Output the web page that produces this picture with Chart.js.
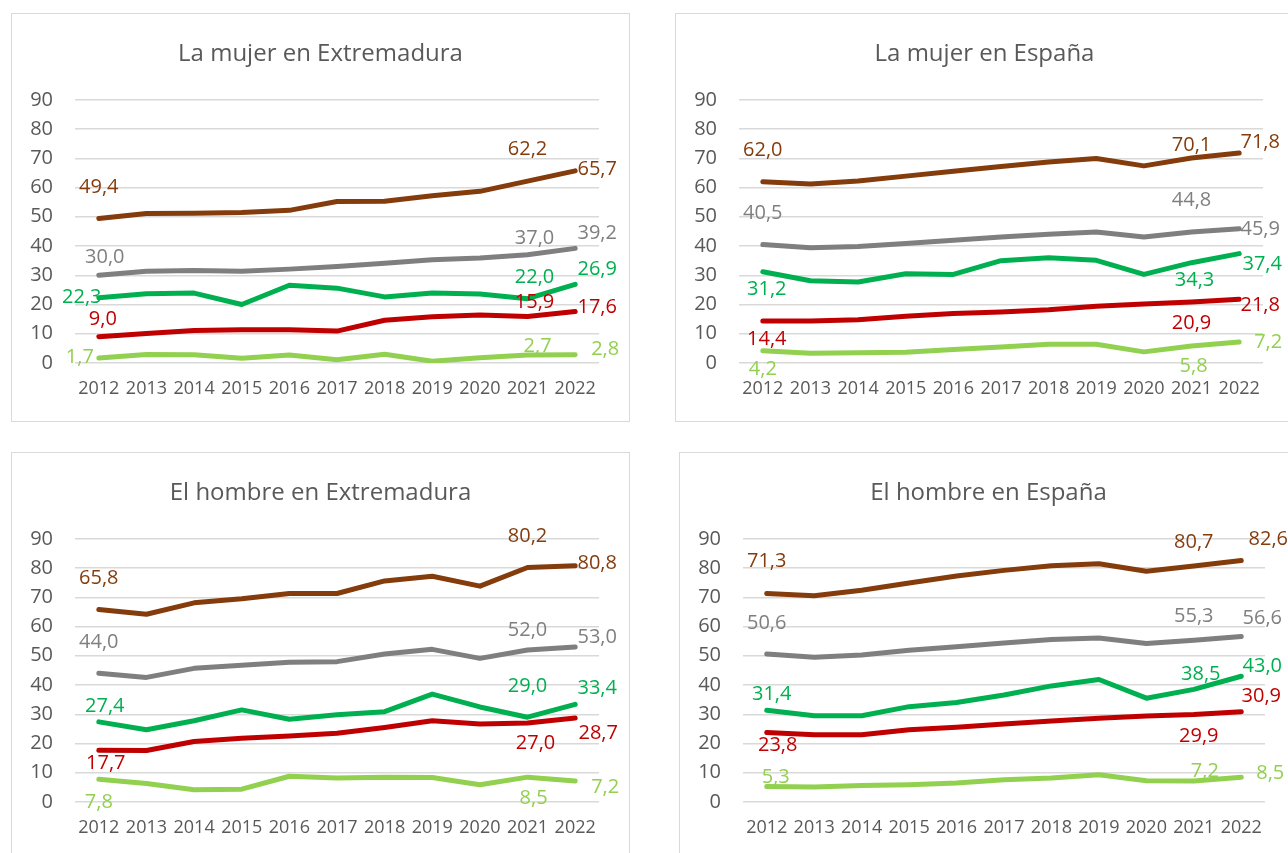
<!DOCTYPE html>
<html lang="es">
<head>
<meta charset="utf-8">
<title>La mujer y el hombre en Extremadura y España</title>
<script src="https://cdn.jsdelivr.net/npm/chart.js@4.4.1/dist/chart.umd.min.js"></script>
<style>
    html, body { margin: 0; padding: 0; background: #fff; overflow: hidden; }
    body { width: 1288px; height: 853px; position: relative; }
    .panel { position: absolute; border: 1px solid #D9D9D9; width: 617px; height: 407px; }
    .panel canvas { display: block; }
</style>
</head>
<body>
<div class="panel" style="left:11px; top:13px;"><canvas id="mujerExt" width="617" height="407"></canvas></div>
<div class="panel" style="left:675px; top:13px;"><canvas id="mujerEsp" width="617" height="407"></canvas></div>
<div class="panel" style="left:11px; top:452px;"><canvas id="hombreExt" width="617" height="407"></canvas></div>
<div class="panel" style="left:679px; top:452px;"><canvas id="hombreEsp" width="617" height="407"></canvas></div>

<script>
// Años (eje X)
const years = ['2012', '2013', '2014', '2015', '2016', '2017', '2018', '2019', '2020', '2021', '2022'];

// Eje Y
const yMin = 0;
const yMax = 90;
const yStep = 10;

// La mujer en Extremadura
const mujerExtMarron = [49.4, 51.1, 51.2, 51.5, 52.2, 55.2, 55.3, 57.2, 58.7, 62.2, 65.7];
const mujerExtGris = [30.0, 31.4, 31.6, 31.4, 32.1, 33.0, 34.1, 35.3, 35.9, 37.0, 39.2];
const mujerExtVerde = [22.3, 23.7, 23.9, 20.0, 26.6, 25.6, 22.6, 23.9, 23.6, 22.0, 26.9];
const mujerExtRojo = [9.0, 10.1, 11.1, 11.4, 11.4, 10.9, 14.6, 15.8, 16.4, 15.9, 17.6];
const mujerExtVerdeClaro = [1.7, 2.9, 2.8, 1.6, 2.7, 1.1, 3.0, 0.6, 1.8, 2.7, 2.8];

// La mujer en España
const mujerEspMarron = [62.0, 61.2, 62.2, 63.9, 65.6, 67.2, 68.7, 69.9, 67.4, 70.1, 71.8];
const mujerEspGris = [40.5, 39.4, 39.8, 40.9, 42.0, 43.1, 44.0, 44.8, 43.1, 44.8, 45.9];
const mujerEspVerde = [31.2, 28.1, 27.7, 30.5, 30.3, 35.0, 36.0, 35.1, 30.3, 34.3, 37.4];
const mujerEspRojo = [14.4, 14.4, 14.8, 16.0, 16.9, 17.4, 18.2, 19.4, 20.2, 20.9, 21.8];
const mujerEspVerdeClaro = [4.2, 3.3, 3.5, 3.7, 4.6, 5.5, 6.4, 6.4, 3.8, 5.8, 7.2];

// El hombre en Extremadura
const hombreExtMarron = [65.8, 64.2, 68.1, 69.5, 71.3, 71.3, 75.6, 77.2, 73.8, 80.2, 80.8];
const hombreExtGris = [44.0, 42.6, 45.7, 46.8, 47.8, 48.0, 50.6, 52.2, 49.1, 52.0, 53.0];
const hombreExtVerde = [27.4, 24.7, 27.8, 31.5, 28.3, 29.8, 30.9, 36.9, 32.5, 29.0, 33.4];
const hombreExtRojo = [17.7, 17.6, 20.7, 21.8, 22.6, 23.5, 25.5, 27.8, 26.7, 27.0, 28.7];
const hombreExtVerdeClaro = [7.8, 6.3, 4.2, 4.4, 8.8, 8.2, 8.5, 8.4, 5.9, 8.5, 7.2];

// El hombre en España
const hombreEspMarron = [71.3, 70.5, 72.4, 74.9, 77.3, 79.2, 80.8, 81.5, 78.9, 80.7, 82.6];
const hombreEspGris = [50.6, 49.5, 50.3, 51.9, 53.1, 54.4, 55.6, 56.1, 54.2, 55.3, 56.6];
const hombreEspVerde = [31.4, 29.5, 29.5, 32.6, 34.0, 36.6, 39.7, 41.9, 35.5, 38.5, 43.0];
const hombreEspRojo = [23.8, 23.0, 23.0, 24.7, 25.6, 26.7, 27.7, 28.6, 29.4, 29.9, 30.9];
const hombreEspVerdeClaro = [5.3, 5.1, 5.6, 5.9, 6.5, 7.6, 8.2, 9.3, 7.3, 7.2, 8.5];

// Puntos con etiqueta (2012, 2021, 2022)
const labelledPoints = [0, 9, 10];

const seriesColors = ['#843C0C', '#7F7F7F', '#00B050', '#C00000', '#92D050'];
const textColor = '#595959';
const gridColor = '#D9D9D9';

Chart.defaults.font.family = '"Open Sans", "Noto Sans", sans-serif';
Chart.defaults.color = textColor;

// Dibuja las etiquetas de datos con su desplazamiento respecto al punto
const dataLabels = {
    id: 'dataLabels',
    afterDatasetsDraw(chart, args, opts) {
        const ctx = chart.ctx;
        ctx.save();
        ctx.font = '20px "Open Sans", "Noto Sans", sans-serif';
        ctx.textAlign = 'center';
        ctx.textBaseline = 'middle';
        chart.data.datasets.forEach((ds, i) => {
            const meta = chart.getDatasetMeta(i);
            const offsets = opts.offsets[i] || [];
            labelledPoints.forEach((idx, k) => {
                const pt = meta.data[idx];
                const off = offsets[k];
                if (!pt || !off) return;
                ctx.fillStyle = ds.borderColor;
                const txt = ds.data[idx].toFixed(1).replace('.', ',');
                ctx.fillText(txt, pt.x + off[0], pt.y + off[1]);
            });
        });
        ctx.restore();
    }
};

function makeChart(canvasId, title, series, offsets, rightSpace) {
    const ctx = document.getElementById(canvasId).getContext('2d');
    return new Chart(ctx, {
        type: 'line',
        data: {
            labels: years,
            datasets: series.map((values, i) => ({
                data: values,
                borderColor: seriesColors[i],
                backgroundColor: seriesColors[i],
                borderWidth: 5,
                borderCapStyle: 'round',
                borderJoinStyle: 'round',
                pointRadius: 0,
                tension: 0,
                fill: false
            }))
        },
        options: {
            responsive: false,
            animation: false,
            events: [],
            layout: { padding: 0 },
            plugins: {
                legend: { display: false },
                tooltip: { enabled: false },
                title: {
                    display: true,
                    text: title,
                    color: textColor,
                    font: { size: 24, weight: 'normal' },
                    padding: { top: 26, bottom: 31 }
                },
                dataLabels: { offsets: offsets }
            },
            scales: {
                x: {
                    type: 'category',
                    offset: true,
                    grid: { display: false, drawTicks: false },
                    border: { display: false },
                    ticks: {
                        autoSkip: false,
                        maxRotation: 0,
                        padding: 15,
                        color: textColor,
                        font: { size: 18 }
                    },
                    afterFit(scale) { scale.height = 58; }
                },
                y: {
                    min: yMin,
                    max: yMax,
                    grid: { color: gridColor, lineWidth: 1.5, drawTicks: false },
                    border: { display: false },
                    ticks: {
                        stepSize: yStep,
                        padding: 22,
                        color: textColor,
                        font: { size: 20 }
                    },
                    afterFit(scale) { scale.width = 63; }
                },
                // espacio vacío a la derecha para las etiquetas de 2022 (el título queda centrado en el panel)
                margen: {
                    type: 'linear',
                    position: 'right',
                    grid: { display: false, drawTicks: false },
                    border: { display: false },
                    ticks: { display: false },
                    afterFit(scale) { scale.width = rightSpace; }
                }
            }
        },
        plugins: [dataLabels]
    });
}

// Desplazamientos [dx, dy] de las etiquetas de 2012, 2021 y 2022 para cada serie
makeChart('mujerExt', 'La mujer en Extremadura',
    [mujerExtMarron, mujerExtGris, mujerExtVerde, mujerExtRojo, mujerExtVerdeClaro],
    [
        [[0, -31], [0, -32], [22, -2]],
        [[6, -18], [7, -16], [22, -15]],
        [[-17, 0], [7, -21], [22, -15]],
        [[4, -17], [7, -14], [22, -4]],
        [[-19, -1], [10, -9], [30, -6]]
    ], 30);

makeChart('mujerEsp', 'La mujer en España',
    [mujerEspMarron, mujerEspGris, mujerEspVerde, mujerEspRojo, mujerEspVerdeClaro],
    [
        [[0, -31], [0, -13], [21, -11]],
        [[0, -31], [0, -32], [21, 1]],
        [[4, 18], [3, 18], [23, 11]],
        [[4, 18], [0, 21], [21, 6]],
        [[0, 19], [2, 20], [29, 0]]
    ], 30);

makeChart('hombreExt', 'El hombre en Extremadura',
    [hombreExtMarron, hombreExtGris, hombreExtVerde, hombreExtRojo, hombreExtVerdeClaro],
    [
        [[0, -31], [0, -31], [22, -2]],
        [[0, -31], [0, -20], [22, -10]],
        [[6, -16], [0, -31], [22, -16]],
        [[7, 13], [8, 20], [23, 15]],
        [[0, 23], [6, 21], [30, 6]]
    ], 30);

makeChart('hombreEsp', 'El hombre en España',
    [hombreEspMarron, hombreEspGris, hombreEspVerde, hombreEspRojo, hombreEspVerdeClaro],
    [
        [[0, -32], [0, -24], [27, -21]],
        [[0, -31], [0, -24], [21, -18]],
        [[5, -16], [7, -15], [21, -10]],
        [[11, 13], [5, 22], [20, -15]],
        [[9, -9], [11, -10], [29, -4]]
    ], 32);
</script>
</body>
</html>
